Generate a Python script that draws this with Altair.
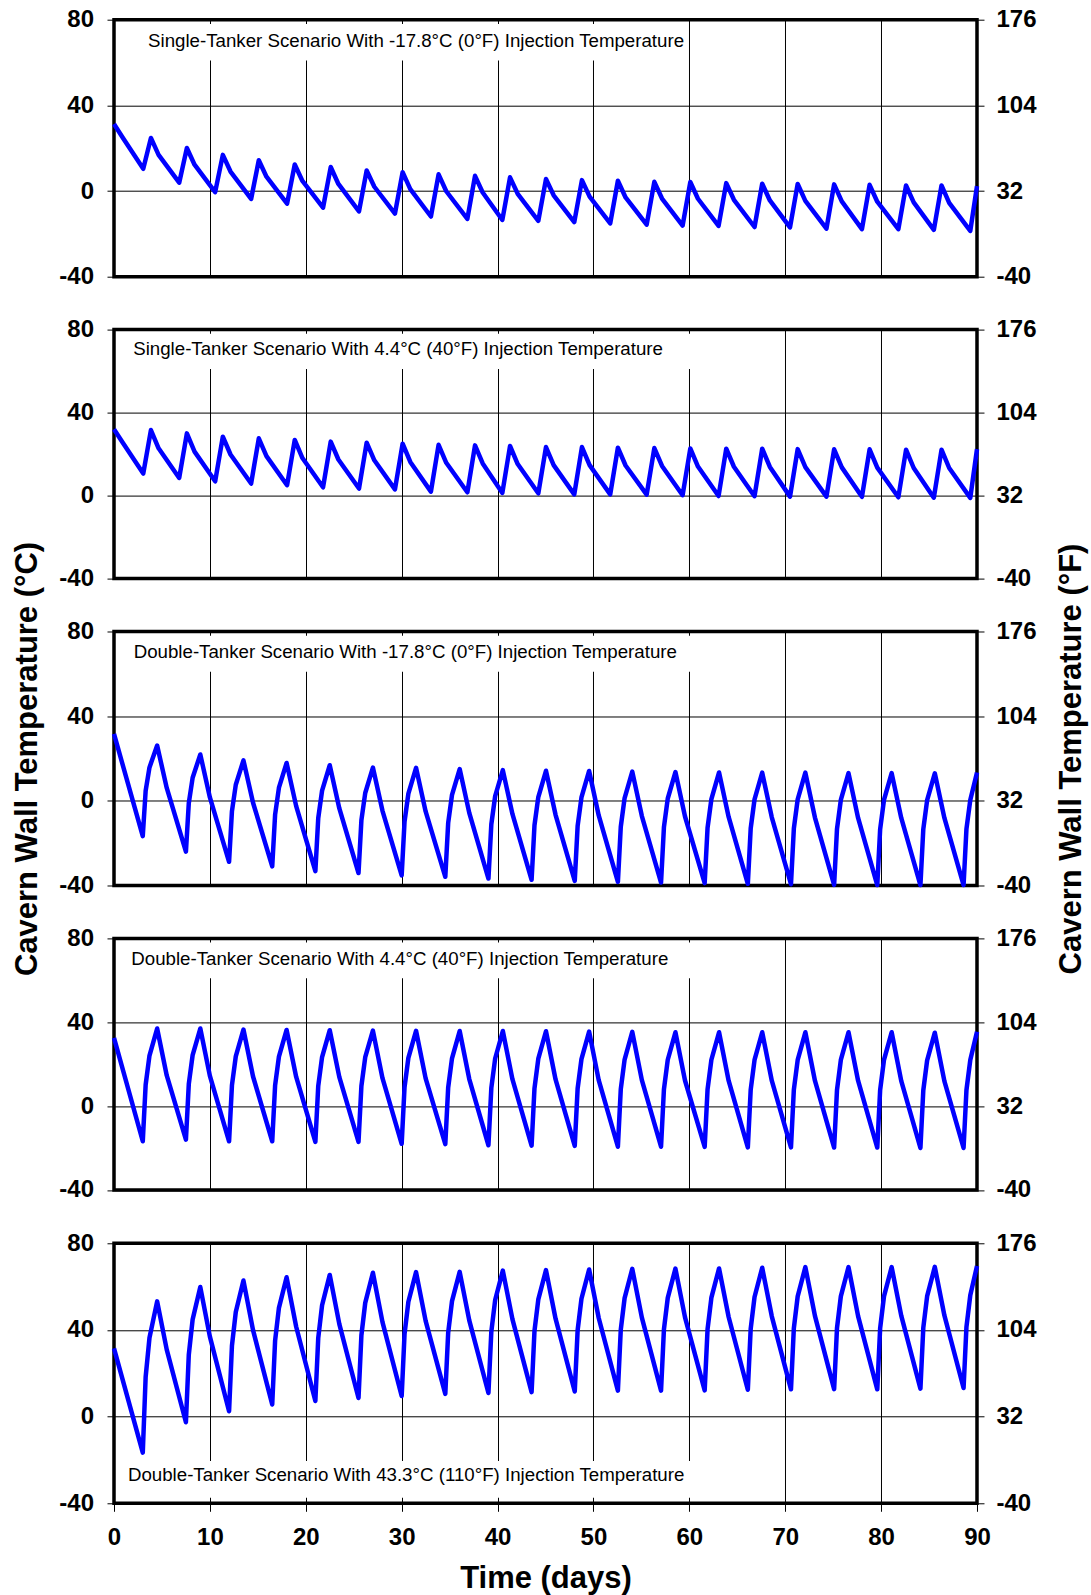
import altair as alt
import pandas as pd

# ---------------------------------------------------------------------------
# Axis ticks
# ---------------------------------------------------------------------------
X_TICKS = [0, 10, 20, 30, 40, 50, 60, 70, 80, 90]
C_TICKS = [-40, 0, 40, 80]
F_TICKS = [-40, 32, 104, 176]

# ---------------------------------------------------------------------------
# Single-tanker runs: one delivery every ~3.75 days
# ---------------------------------------------------------------------------
SINGLE_TROUGH_DAY = [3.05, 6.80, 10.55, 14.30, 18.05, 21.80, 25.55, 29.30,
                     33.05, 36.85, 40.50, 44.25, 48.00, 51.75, 55.55, 59.30,
                     63.05, 66.80, 70.50, 74.30, 78.00, 81.80, 85.50, 89.30]
SINGLE_RISE = 0.8   # days from trough to peak
SINGLE_BEND = 1.6   # days from trough to the bend of the cooling limb

# -17.8 C injection
S1_START = [31.3, 25.0]          # day 0 and day 0.9
S1_TROUGH = [10.4, 3.9, -0.5, -3.7, -5.9, -7.8, -9.5, -10.5, -11.9, -13.0,
             -13.5, -13.9, -14.5, -15.1, -15.7, -16.1, -16.3, -16.8, -17.0,
             -17.6, -17.8, -17.8, -18.1, -18.6]
S1_PEAK = [24.8, 20.1, 16.9, 14.4, 12.4, 11.2, 9.6, 8.8, 7.8, 7.1, 6.4, 5.6,
           5.1, 4.8, 4.3, 4.2, 3.7, 3.4, 3.3, 3.1, 2.9, 2.6, 2.6]
S1_BEND = [16.9, 12.3, 9.1, 6.7, 4.7, 3.3, 2.0, 0.9, -0.1, -0.7, -1.3, -2.0,
           -2.6, -3.0, -3.5, -3.6, -4.1, -4.4, -4.6, -4.8, -5.0, -5.3, -5.5]
S1_END = 2.3

# 4.4 C injection
S2_START = [32.0, 25.6]
S2_TROUGH = [10.6, 8.5, 6.9, 5.8, 5.0, 4.0, 3.4, 3.0, 1.9, 1.6, 1.3, 1.1, 0.6,
             0.6, 0.5, 0.2, -0.2, -0.3, -0.5, -0.5, -0.6, -0.8, -1.0, -1.1]
S2_PEAK = [31.6, 30.0, 28.4, 27.6, 26.8, 26.0, 25.5, 25.0, 24.5, 24.2, 23.9,
           23.4, 23.4, 23.1, 22.9, 22.7, 22.6, 22.6, 22.4, 22.3, 22.3, 22.1,
           22.1]
S2_BEND = [22.8, 21.2, 19.8, 19.0, 18.1, 17.4, 17.0, 16.2, 15.8, 15.5, 15.2,
           14.7, 14.7, 14.5, 14.3, 14.0, 13.9, 13.8, 13.7, 13.6, 13.5, 13.3,
           13.3]
S2_END = 22.4

# ---------------------------------------------------------------------------
# Double-tanker runs: one delivery every ~4.5 days
# ---------------------------------------------------------------------------
DOUBLE_TROUGH_DAY = [3.0, 7.5, 12.0, 16.5, 21.0, 25.5, 30.0, 34.55, 39.05,
                     43.55, 48.05, 52.55, 57.05, 61.6, 66.1, 70.6, 75.1, 79.6,
                     84.1, 88.6]
DOUBLE_KNEE1 = 0.3   # days from trough to the first knee of the warm-up
DOUBLE_KNEE2 = 0.7
DOUBLE_RISE = 1.5    # days from trough to peak
DOUBLE_BEND = 2.5    # days from trough to the bend of the cooling limb

# -17.8 C injection
D1_START = 31.6
D1_TROUGH = [-16.7, -24.0, -28.8, -31.0, -33.2, -34.1, -35.2, -35.9, -36.7,
             -37.3, -37.8, -38.3, -38.6, -38.9, -39.2, -39.4, -39.7, -39.8,
             -39.8, -39.8]
D1_KNEE1 = [4.7, -1.1, -4.9, -6.6, -8.2, -9.2, -9.8, -10.5, -11.1, -11.6,
            -11.9, -12.3, -12.5, -12.8, -13.0, -13.1, -13.3, -13.4, -13.4,
            -13.3]
D1_KNEE2 = [15.8, 10.9, 7.6, 6.2, 4.8, 3.7, 3.4, 2.8, 2.2, 1.8, 1.6, 1.3, 1.1,
            0.8, 0.7, 0.7, 0.4, 0.4, 0.3, 0.4]
D1_PEAK = [26.1, 21.9, 19.1, 17.9, 16.8, 15.7, 15.6, 15.0, 14.5, 14.2, 14.1,
           13.8, 13.6, 13.4, 13.3, 13.3, 13.1, 13.1, 13.0]
D1_BEND = [6.1, 1.6, -0.9, -2.5, -3.6, -4.7, -5.0, -5.7, -6.2, -6.6, -6.9,
           -7.2, -7.4, -7.6, -7.8, -7.9, -8.1, -8.1, -8.1]
D1_END = 13.4

# 4.4 C injection
D2_START = 32.5
D2_TROUGH = [-16.8, -16.0, -16.8, -16.8, -17.1, -17.1, -18.0, -18.2, -18.7,
             -18.9, -19.0, -19.4, -19.4, -19.5, -19.7, -19.7, -19.8, -19.8,
             -20.0, -20.0]
D2_KNEE1 = [10.1, 10.5, 9.9, 9.8, 9.6, 9.5, 9.0, 8.8, 8.6, 8.4, 8.3, 8.0, 7.9,
            7.9, 7.8, 7.8, 7.7, 7.7, 7.5, 7.6]
D2_KNEE2 = [24.1, 24.3, 23.7, 23.6, 23.4, 23.3, 23.0, 22.8, 22.7, 22.6, 22.4,
            22.2, 22.1, 22.1, 22.0, 22.0, 22.0, 22.0, 21.8, 22.0]
D2_PEAK = [37.0, 37.0, 36.5, 36.3, 36.2, 36.0, 35.9, 35.8, 35.8, 35.7, 35.5,
           35.4, 35.2, 35.2, 35.2, 35.2, 35.2, 35.2, 35.0]
D2_BEND = [14.6, 14.4, 14.1, 13.9, 13.8, 13.3, 13.2, 12.9, 12.8, 12.7, 12.4,
           12.4, 12.2, 12.1, 12.1, 12.1, 12.1, 12.0, 11.9]
D2_END = 35.5

# 43.3 C injection
D3_START = 31.5
D3_TROUGH = [-16.6, -2.6, 2.5, 5.6, 7.2, 8.6, 9.5, 10.5, 10.9, 11.3, 11.6,
             12.0, 12.0, 12.1, 12.4, 12.6, 12.7, 12.6, 12.9, 13.2]
D3_KNEE1 = [18.3, 28.6, 32.7, 35.0, 36.3, 37.5, 38.1, 38.7, 39.2, 39.5, 39.8,
            40.1, 40.2, 40.3, 40.6, 40.8, 40.9, 40.8, 41.0, 41.4]
D3_KNEE2 = [36.4, 44.8, 48.3, 50.2, 51.4, 52.5, 53.0, 53.3, 53.8, 54.1, 54.4,
            54.7, 54.8, 54.9, 55.2, 55.5, 55.5, 55.5, 55.6, 56.0]
D3_PEAK = [53.2, 59.8, 62.8, 64.3, 65.4, 66.4, 66.7, 66.8, 67.4, 67.6, 67.9,
           68.2, 68.3, 68.4, 68.7, 69.0, 69.0, 69.0, 69.1]
D3_BEND = [30.9, 36.9, 39.9, 41.5, 42.7, 43.6, 44.2, 44.4, 45.0, 45.2, 45.5,
           45.7, 45.8, 46.0, 46.3, 46.5, 46.4, 46.6, 46.7]
D3_END = 69.5

# ---------------------------------------------------------------------------
# Panel captions (text, anchor day, baseline temperature, masking box)
# ---------------------------------------------------------------------------
NOTES = [
    "Single-Tanker Scenario With -17.8°C (0°F) Injection Temperature",
    "Single-Tanker Scenario With 4.4°C (40°F) Injection Temperature",
    "Double-Tanker Scenario With -17.8°C (0°F) Injection Temperature",
    "Double-Tanker Scenario With 4.4°C (40°F) Injection Temperature",
    "Double-Tanker Scenario With 43.3°C (110°F) Injection Temperature",
]
NOTE_DAY = [3.55, 2.0, 2.05, 1.8, 1.45]
NOTE_TEMP = [67.4, 67.6, 67.3, 67.1, -29.8]
NOTE_BOX = [  # day0, day1, temp0, temp1
    (2.5, 59.7, 61.0, 78.0),
    (1.0, 61.0, 61.0, 78.0),
    (1.0, 61.0, 61.0, 78.0),
    (1.0, 61.0, 61.0, 78.0),
    (1.0, 61.0, -37.5, -20.5),
]

PANEL_HEIGHT = [257, 249, 254, 251.5, 260]
PANEL_GAP = 52.9
PLOT_WIDTH = 863

FONT = "Liberation Sans"
BLUE = "#0000FF"


def single_series(start, troughs, peaks, bends, end):
    rows = [(0.0, start[0]), (0.9, start[1])]
    for i, d in enumerate(SINGLE_TROUGH_DAY):
        rows.append((d, troughs[i]))
        if i < len(peaks):
            rows.append((d + SINGLE_RISE, peaks[i]))
            rows.append((d + SINGLE_BEND, bends[i]))
    rows.append((90.0, end))
    return pd.DataFrame(rows, columns=["day", "temp"])


def double_series(start, troughs, knee1, knee2, peaks, bends, end):
    rows = [(0.0, start)]
    for i, d in enumerate(DOUBLE_TROUGH_DAY):
        rows.append((d, troughs[i]))
        rows.append((d + DOUBLE_KNEE1, knee1[i]))
        rows.append((d + DOUBLE_KNEE2, knee2[i]))
        if i < len(peaks):
            rows.append((d + DOUBLE_RISE, peaks[i]))
            rows.append((d + DOUBLE_BEND, bends[i]))
    rows.append((90.0, end))
    return pd.DataFrame(rows, columns=["day", "temp"])


SERIES = [
    single_series(S1_START, S1_TROUGH, S1_PEAK, S1_BEND, S1_END),
    single_series(S2_START, S2_TROUGH, S2_PEAK, S2_BEND, S2_END),
    double_series(D1_START, D1_TROUGH, D1_KNEE1, D1_KNEE2, D1_PEAK, D1_BEND, D1_END),
    double_series(D2_START, D2_TROUGH, D2_KNEE1, D2_KNEE2, D2_PEAK, D2_BEND, D2_END),
    double_series(D3_START, D3_TROUGH, D3_KNEE1, D3_KNEE2, D3_PEAK, D3_BEND, D3_END),
]

X_SCALE = alt.Scale(domain=[0, 90], nice=False, zero=False)
C_SCALE = alt.Scale(domain=[-40, 80], nice=False, zero=False)
F_SCALE = alt.Scale(domain=[-40, 176], nice=False, zero=False)
PLAIN_LABEL = "'' + datum.value"


def panel(idx, bottom=False, titled=False):
    df = SERIES[idx]
    h = PANEL_HEIGHT[idx]

    if bottom:
        x_axis = alt.Axis(values=X_TICKS, grid=True, labels=True, ticks=True,
                          tickSize=8, labelPadding=14, domain=False,
                          labelFlush=False, labelExpr=PLAIN_LABEL,
                          title="Time (days)", titleY=75,
                          titleBaseline="middle")
    else:
        x_axis = alt.Axis(values=X_TICKS, grid=True, labels=False,
                          ticks=False, domain=False, title=None)

    left_kw = dict(values=C_TICKS, grid=True, orient="left", tickSize=7,
                   labelPadding=13.5, domain=False, labelFlush=False,
                   labelExpr=PLAIN_LABEL)
    right_kw = dict(values=F_TICKS, grid=False, orient="right", tickSize=7,
                    labelPadding=12, domain=False, labelFlush=False,
                    labelExpr=PLAIN_LABEL)
    if titled:
        left_kw.update(title="Cavern Wall Temperature (°C)", titleX=-87,
                       titleY=h / 2, titleAngle=270, titleAlign="center",
                       titleBaseline="middle")
        right_kw.update(title="Cavern Wall Temperature (°F)", titleX=95,
                        titleY=h / 2, titleAngle=270, titleAlign="center",
                        titleBaseline="middle")
    else:
        left_kw.update(title=None)
        right_kw.update(title=None)

    d0, d1, t0, t1 = NOTE_BOX[idx]
    note_df = pd.DataFrame({
        "note": [NOTES[idx]], "day": [NOTE_DAY[idx]], "temp": [NOTE_TEMP[idx]],
        "d0": [d0], "d1": [d1], "t0": [t0], "t1": [t1],
    })

    # the temperature trace carries the shared day axis and the °C axis
    line = alt.Chart(df).mark_line(color=BLUE, strokeWidth=4.5,
                                   strokeJoin="round").encode(
        x=alt.X("day:Q", scale=X_SCALE, axis=x_axis),
        y=alt.Y("temp:Q", scale=C_SCALE, axis=alt.Axis(**left_kw)),
        order="day:Q",
    )
    # white backing behind the caption hides the grid under it
    box = alt.Chart(note_df).mark_rect(fill="white").encode(
        x=alt.X("d0:Q", scale=X_SCALE, axis=x_axis),
        x2="d1:Q",
        y=alt.Y("t0:Q", scale=C_SCALE, axis=alt.Axis(**left_kw)),
        y2="t1:Q",
    )
    text = alt.Chart(note_df).mark_text(
        align="left", baseline="alphabetic", font=FONT, fontSize=18.7,
        color="black",
    ).encode(
        x=alt.X("day:Q", scale=X_SCALE, axis=x_axis),
        y=alt.Y("temp:Q", scale=C_SCALE, axis=alt.Axis(**left_kw)),
        text="note:N",
    )
    celsius = alt.layer(line, box, text)

    fahrenheit = alt.Chart(df).transform_calculate(
        temp_f="datum.temp * 1.8 + 32"
    ).mark_point(opacity=0).encode(
        x=alt.X("day:Q", scale=X_SCALE, axis=x_axis),
        y=alt.Y("temp_f:Q", scale=F_SCALE, axis=alt.Axis(**right_kw)),
    )

    return alt.layer(celsius, fahrenheit).resolve_scale(
        y="independent"
    ).properties(width=PLOT_WIDTH, height=h)


chart = alt.vconcat(
    panel(0),
    panel(1),
    panel(2, titled=True),
    panel(3),
    panel(4, bottom=True),
    spacing=PANEL_GAP,
    bounds="flush",
).properties(
    padding={"left": 9, "top": 5.7, "right": 2, "bottom": 2},
    background="white",
).configure_view(
    stroke="black", strokeWidth=3.5
).configure_axis(
    labelFont=FONT, labelFontWeight="bold", labelFontSize=24,
    labelColor="black", tickColor="black", tickWidth=1,
    gridColor="black", gridWidth=1, gridOpacity=1,
    titleFont=FONT, titleFontWeight="bold", titleFontSize=31,
    titleColor="black",
)

chart.save("out.html", embed_options={"renderer": "svg", "actions": False})
